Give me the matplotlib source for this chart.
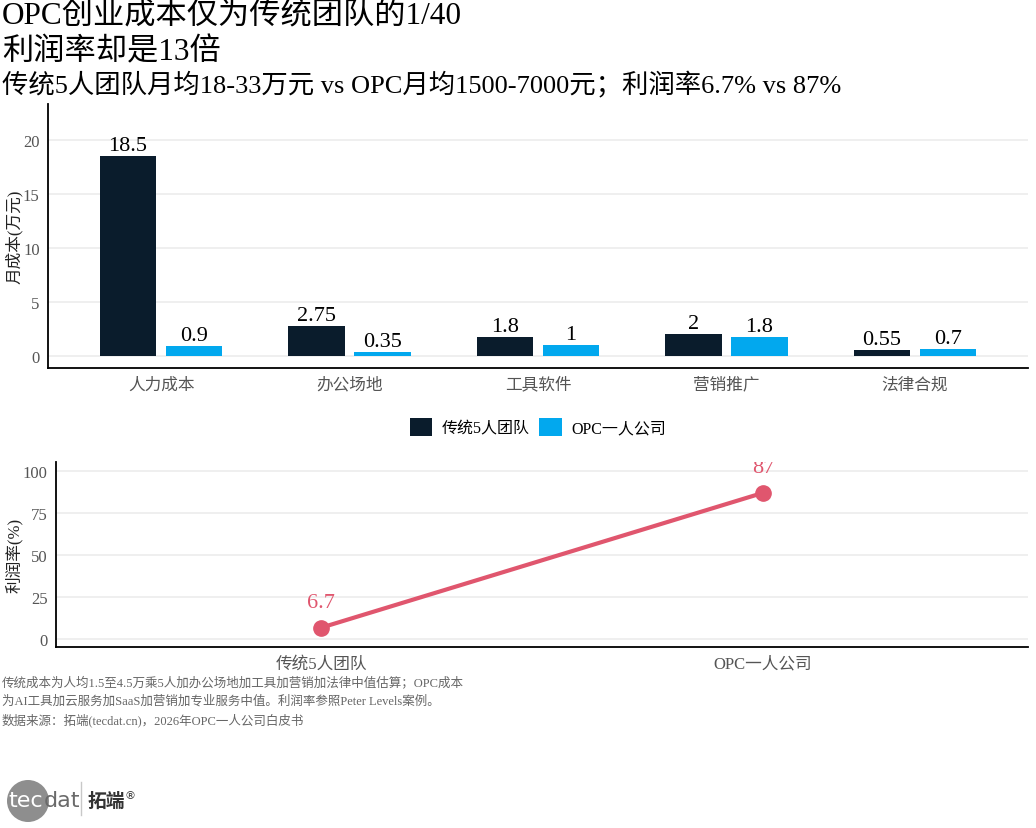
import numpy as np
import matplotlib
matplotlib.use('Agg')
import matplotlib.pyplot as plt
from matplotlib.patches import Patch, Ellipse
from matplotlib.lines import Line2D

# 数据
categories = ['人力成本', '办公场地', '工具软件', '营销推广', '法律合规']
traditional_cost = [18.5, 2.75, 1.8, 2, 0.55]
opc_cost = [0.9, 0.35, 1, 1.8, 0.7]
series_names = ['传统5人团队', 'OPC一人公司']
team_types = ['传统5人团队', 'OPC一人公司']
profit_margin = [6.7, 87]

title_1 = 'OPC创业成本仅为传统团队的1/40'
title_2 = '利润率却是13倍'
subtitle = '传统5人团队月均18-33万元 vs OPC月均1500-7000元；利润率6.7% vs 87%'
notes = [
    '传统成本为人均1.5至4.5万乘5人加办公场地加工具加营销加法律中值估算；OPC成本',
    '为AI工具加云服务加SaaS加营销加专业服务中值。利润率参照Peter Levels案例。',
    '数据来源：拓端(tecdat.cn)，2026年OPC一人公司白皮书',
]

DARK = '#0A1C2C'
CYAN = '#02A8EE'
RED = '#E0566E'
GRID = '#EBEBEB'
TICK = '#555555'

plt.rcParams['font.family'] = ['Liberation Serif', 'Noto Sans CJK SC']
plt.rcParams['axes.unicode_minus'] = False

W, H = 1036, 829
fig = plt.figure(figsize=(W / 100, H / 100), dpi=100)


def px_axes(left, top, right, bottom):
    return fig.add_axes([left / W, 1 - bottom / H, (right - left) / W, (bottom - top) / H])


def style_axes(ax):
    for s in ['top', 'right']:
        ax.spines[s].set_visible(False)
    for s in ['left', 'bottom']:
        ax.spines[s].set_linewidth(1.3)
        ax.spines[s].set_color('black')
    ax.tick_params(length=0, labelsize=12, labelcolor=TICK, pad=6)
    ax.grid(axis='y', color=GRID, linewidth=1.1)
    ax.set_axisbelow(True)


# 上图：月成本柱状图
ax1 = px_axes(48, 105, 1028, 369)
style_axes(ax1)
x = np.arange(1, len(categories) + 1)
bw = 0.30
off = 0.175
b1 = ax1.bar(x - off, traditional_cost, width=bw, color=DARK, label=series_names[0])
b2 = ax1.bar(x + off, opc_cost, width=bw, color=CYAN, label=series_names[1])
for bars, vals in [(b1, traditional_cost), (b2, opc_cost)]:
    for rect, v in zip(bars, vals):
        ax1.annotate(f'{v:g}', (rect.get_x() + rect.get_width() / 2, v),
                     xytext=(0, 1), textcoords='offset pixels',
                     ha='center', va='bottom', fontsize=16, color='black')
ax1.set_xlim(0.4, 5.6)
ax1.set_ylim(-1.1, 23.3)
ax1.set_yticks([0, 5, 10, 15, 20])
ax1.set_xticks(x)
ax1.set_xticklabels(categories)
ax1.set_ylabel('月成本(万元)', fontsize=12, color='#222222')
ax1.yaxis.set_label_coords((23 - 48) / 980, 0.5)

# 图例
handles = [Patch(facecolor=DARK), Patch(facecolor=CYAN)]
fig.legend(handles, series_names, loc='center', ncol=2,
           bbox_to_anchor=(538 / W, 1 - 428 / H), frameon=False,
           fontsize=11.5, handlelength=1.4, handleheight=1.4,
           handletextpad=0.6, columnspacing=0.6)

# 下图：利润率折线
ax2 = px_axes(56, 463, 1028, 648)
style_axes(ax2)
xp = np.arange(1, len(team_types) + 1)
ax2.plot(xp, profit_margin, color=RED, linewidth=3, marker='o', markersize=11,
         solid_capstyle='round')
for xi, v in zip(xp, profit_margin):
    t = ax2.annotate(f'{v:g}', (xi, v), xytext=(0, 16), textcoords='offset pixels',
                     ha='center', va='bottom', fontsize=16, color=RED,
                     annotation_clip=False)
    t.set_clip_on(True)
    t.set_clip_box(ax2.bbox)
ax2.set_xlim(0.4, 2.6)
ax2.set_ylim(-4.8, 105.4)
ax2.set_yticks([0, 25, 50, 75, 100])
ax2.set_xticks(xp)
ax2.set_xticklabels(team_types)
ax2.set_ylabel('利润率(%)', fontsize=12, color='#222222')
ax2.yaxis.set_label_coords((23 - 56) / 972, 0.5)

# 标题
fig.text(2 / W, 1 - 17 / H, title_1, fontsize=22.5, va='center', ha='left', color='black')
fig.text(2 / W, 1 - 53 / H, title_2, fontsize=22.5, va='center', ha='left', color='black')
fig.text(2 / W, 1 - 84 / H, subtitle, fontsize=19, va='center', ha='left', color='black')

# 注释
for i, line in enumerate(notes):
    fig.text(2 / W, 1 - (683 + i * 18.7) / H, line, fontsize=9, color='#666666',
             va='center', ha='left')

# logo（非等比坐标，用椭圆画正圆）
fig.add_artist(Ellipse((28 / W, 1 - 802 / H), 42 / W, 42 / H, transform=fig.transFigure,
                       facecolor='#8E8E8E', edgecolor='none'))
fig.text(8 / W, 1 - 801 / H, 'tec', fontsize=16, color='white', family='DejaVu Sans',
         va='center', ha='left')
fig.text(44 / W, 1 - 801 / H, 'dat', fontsize=16, color='#6A6A6A', family='DejaVu Sans',
         va='center', ha='left')
fig.add_artist(Line2D([81 / W, 81 / W], [1 - 783 / H, 1 - 816 / H], color='#C8C8C8',
                      linewidth=1, transform=fig.transFigure))
fig.text(88 / W, 1 - 801 / H, '拓端', fontsize=13.5, color='#333333',
         family='Noto Sans CJK SC', weight='bold', va='center', ha='left')
fig.text(125 / W, 1 - 796 / H, '®', fontsize=8, color='#333333',
         family='DejaVu Sans', va='center', ha='left')

fig.savefig('out.png', dpi=100)
